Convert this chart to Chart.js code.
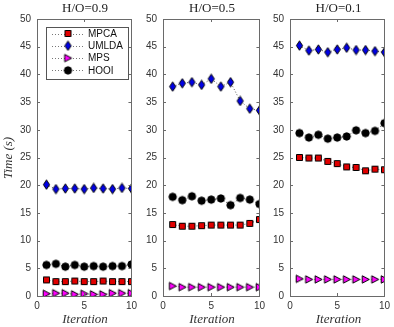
<!DOCTYPE html>
<html>
<head>
<meta charset="utf-8">
<script src="https://cdn.jsdelivr.net/npm/chart.js@4.4.0/dist/chart.umd.min.js"></script>
<style>
  body { margin: 0; background: #fff; }
  #wrap { position: relative; width: 394px; height: 327px; overflow: hidden; }
  canvas { position: absolute; top: 0; }
  .title { position: absolute; top: 0; font: 13px "Liberation Serif", serif; color: #222; text-align: center; white-space: nowrap; }
  .xlab { position: absolute; top: 311px; font: italic 13px "Liberation Serif", serif; color: #333; text-align: center; }
  .ylab { position: absolute; left: -22px; top: 150px; width: 60px; text-align: center; font: italic 13px "Liberation Serif", serif; color: #333; transform: rotate(-90deg); white-space: nowrap; }
</style>
</head>
<body>
<div id="wrap">
  <canvas id="c1" width="141" height="327" style="left:0px"></canvas>
  <canvas id="c2" width="131" height="327" style="left:138px"></canvas>
  <canvas id="c3" width="131" height="327" style="left:263px"></canvas>
  <div class="title" style="left:37px;width:96px">H/O=0.9</div>
  <div class="title" style="left:163px;width:98px">H/O=0.5</div>
  <div class="title" style="left:290px;width:97px">H/O=0.1</div>
  <div class="xlab" style="left:37px;width:96px">Iteration</div>
  <div class="xlab" style="left:163px;width:98px">Iteration</div>
  <div class="xlab" style="left:290px;width:97px">Iteration</div>
  <div class="ylab">Time (s)</div>
</div>
<script>
// iterations on the x axis
const iterations = [1, 2, 3, 4, 5, 6, 7, 8, 9, 10];
const seriesNames = ['MPCA', 'UMLDA', 'MPS', 'HOOI'];
const panelTitles = ['H/O=0.9', 'H/O=0.5', 'H/O=0.1'];

// H/O = 0.9
const mpca09  = [2.9, 2.6, 2.6, 2.7, 2.6, 2.6, 2.7, 2.6, 2.6, 2.6];
const umlda09 = [20.1, 19.3, 19.4, 19.4, 19.3, 19.5, 19.4, 19.3, 19.5, 19.4];
const mps09   = [0.4, 0.5, 0.5, 0.3, 0.4, 0.3, 0.3, 0.5, 0.5, 0.5];
const hooi09  = [5.6, 5.8, 5.3, 5.6, 5.3, 5.4, 5.3, 5.4, 5.4, 5.7];

// H/O = 0.5
const mpca05  = [12.9, 12.6, 12.6, 12.7, 12.8, 12.8, 12.8, 12.8, 13.1, 13.8];
const umlda05 = [37.8, 38.4, 38.6, 38.1, 39.2, 37.8, 38.6, 35.2, 33.8, 33.5];
const mps05   = [1.8, 1.6, 1.6, 1.6, 1.6, 1.6, 1.6, 1.6, 1.6, 1.6];
const hooi05  = [17.9, 17.3, 18.0, 17.2, 17.4, 17.6, 16.4, 17.7, 17.4, 16.6];

// H/O = 0.1
const mpca01  = [25.0, 24.9, 24.9, 24.3, 23.9, 23.3, 23.2, 22.6, 22.9, 22.8];
const umlda01 = [45.2, 44.3, 44.5, 44.0, 44.5, 44.8, 44.4, 44.4, 44.2, 44.0];
const mps01   = [3.1, 3.0, 3.0, 3.0, 3.0, 3.0, 3.0, 3.0, 3.0, 3.0];
const hooi01  = [29.4, 28.6, 29.1, 28.4, 28.6, 28.8, 29.9, 29.4, 29.8, 31.2];

const yTicks = [0, 5, 10, 15, 20, 25, 30, 35, 40, 45, 50];
const xTicks = [0, 5, 10];

// little marker images, matlab look
function marker(kind) {
  const c = document.createElement('canvas');
  c.width = 11; c.height = 11;
  const g = c.getContext('2d');
  g.lineWidth = 1;
  g.strokeStyle = '#000';
  g.beginPath();
  if (kind === 'square') {
    g.fillStyle = '#e00000';
    g.rect(2.5, 2.5, 6, 6);
  } else if (kind === 'diamond') {
    g.fillStyle = '#0000e6';
    g.moveTo(5.5, 0.8); g.lineTo(8.6, 5.5); g.lineTo(5.5, 10.2); g.lineTo(2.4, 5.5); g.closePath();
  } else if (kind === 'triangle') {
    g.fillStyle = '#ff00ff';
    g.moveTo(2.2, 1.8); g.lineTo(9.2, 5.5); g.lineTo(2.2, 9.2); g.closePath();
  } else {
    g.fillStyle = '#000';
    g.arc(5.5, 5.5, 3.7, 0, Math.PI * 2);
  }
  g.fill();
  g.stroke();
  return c;
}
const markers = [marker('square'), marker('diamond'), marker('triangle'), marker('circle')];

// box + inward ticks
const boxPlugin = {
  id: 'box',
  afterDatasetsDraw(chart) {
    const { ctx, chartArea: a, scales } = chart;
    ctx.save();
    ctx.strokeStyle = '#6a6a6a';
    ctx.lineWidth = 1;
    ctx.strokeRect(Math.round(a.left) + 0.5, Math.round(a.top) + 0.5, Math.round(a.right - a.left), Math.round(a.bottom - a.top));
    ctx.beginPath();
    yTicks.forEach(v => {
      const y = Math.round(scales.y.getPixelForValue(v)) + 0.5;
      ctx.moveTo(a.left, y); ctx.lineTo(a.left + 3, y);
      ctx.moveTo(a.right, y); ctx.lineTo(a.right - 3, y);
    });
    xTicks.forEach(v => {
      const x = Math.round(scales.x.getPixelForValue(v)) + 0.5;
      ctx.moveTo(x, a.bottom); ctx.lineTo(x, a.bottom - 3);
      ctx.moveTo(x, a.top); ctx.lineTo(x, a.top + 3);
    });
    ctx.stroke();
    ctx.restore();
  }
};

// legend inside the first panel
const legendPlugin = {
  id: 'innerLegend',
  afterDraw(chart) {
    if (chart.canvas.id !== 'c1') return;
    const ctx = chart.ctx;
    const x0 = 46, y0 = 27, w = 82, h = 52;
    ctx.save();
    ctx.fillStyle = '#fff';
    ctx.fillRect(x0, y0, w, h);
    ctx.strokeStyle = '#555';
    ctx.lineWidth = 1;
    ctx.strokeRect(x0 + 0.5, y0 + 0.5, w, h);
    ctx.font = '10px "Liberation Sans", Arial, sans-serif';
    ctx.textBaseline = 'middle';
    seriesNames.forEach((name, i) => {
      const y = y0 + 6.5 + i * 12.3;
      ctx.strokeStyle = '#777';
      ctx.setLineDash([1, 2]);
      ctx.beginPath();
      ctx.moveTo(x0 + 6, Math.round(y) + 0.5);
      ctx.lineTo(x0 + 37, Math.round(y) + 0.5);
      ctx.stroke();
      ctx.setLineDash([]);
      const m = markers[i];
      ctx.drawImage(m, x0 + 22 - m.width / 2, y - m.height / 2);
      ctx.fillStyle = '#111';
      ctx.fillText(name, x0 + 42, y + 0.5);
    });
    ctx.restore();
  }
};

function makePanel(id, axisW, rightPad, values) {
  const datasets = values.map((vals, i) => ({
    label: seriesNames[i],
    data: iterations.map((it, k) => ({ x: it, y: vals[k] })),
    borderColor: '#555',
    borderWidth: 1,
    borderDash: [1, 2],
    pointStyle: markers[i],
    pointRadius: 5,
    tension: 0
  }));
  new Chart(document.getElementById(id), {
    type: 'line',
    data: { datasets },
    plugins: [boxPlugin, legendPlugin],
    options: {
      responsive: false,
      animation: false,
      events: [],
      layout: { padding: { top: 19, right: rightPad, bottom: 0, left: 0 } },
      plugins: { legend: { display: false }, tooltip: { enabled: false } },
      scales: {
        x: {
          type: 'linear', min: 0, max: 10,
          grid: { display: false, drawTicks: false },
          border: { display: false },
          afterBuildTicks: s => { s.ticks = xTicks.map(v => ({ value: v })); },
          afterFit: s => { s.height = 31; },
          ticks: { padding: 4, color: '#333', font: { family: 'Liberation Sans', size: 10 } }
        },
        y: {
          min: 0, max: 50,
          grid: { display: false, drawTicks: false },
          border: { display: false },
          afterBuildTicks: s => { s.ticks = yTicks.map(v => ({ value: v })); },
          afterFit: s => { s.width = axisW; },
          ticks: { padding: 6, color: '#333', font: { family: 'Liberation Sans', size: 10 } }
        }
      }
    }
  });
}

makePanel('c1', 37, 8, [mpca09, umlda09, mps09, hooi09]);
makePanel('c2', 25, 8, [mpca05, umlda05, mps05, hooi05]);
makePanel('c3', 27, 7, [mpca01, umlda01, mps01, hooi01]);
</script>
</body>
</html>
